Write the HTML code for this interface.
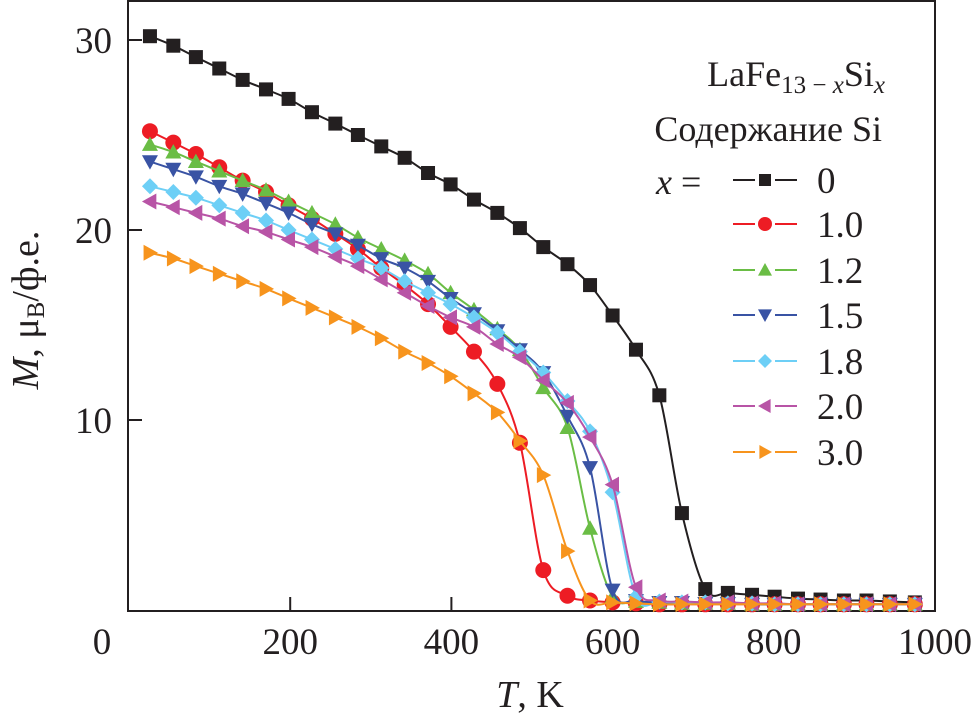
<!DOCTYPE html>
<html><head><meta charset="utf-8"><style>
body{margin:0;background:#fff}
svg text{font-family:"Liberation Serif",serif;fill:#231f20}
</style></head><body>
<svg id="chart" width="975" height="723" viewBox="0 0 975 723" xmlns="http://www.w3.org/2000/svg">
<rect x="128" y="1" width="807" height="610" fill="none" stroke="#231f20" stroke-width="2"/>
<g id="ticks"></g>
<g id="series"></g>
<text x="102" y="654" font-size="37" text-anchor="middle">0</text>
<text x="530" y="707" font-size="38" text-anchor="middle"><tspan font-style="italic">T</tspan>, K</text>
<text transform="translate(38,310) rotate(-90)" font-size="38" text-anchor="middle"><tspan font-style="italic">M</tspan>, μ<tspan font-size="25" dy="6">B</tspan><tspan dy="-6">/ф.е.</tspan></text>
<g>
<text x="885" y="86" font-size="36" text-anchor="end">LaFe<tspan font-size="25" dy="7">13 − <tspan font-style="italic">x</tspan></tspan><tspan dy="-7">Si</tspan><tspan font-size="25" dy="7" font-style="italic">x</tspan></text>
<text x="882" y="141" font-size="36" text-anchor="end">Содержание Si</text>
<text x="656" y="194" font-size="36"><tspan font-style="italic">x</tspan> =</text>
<g id="legend-entries"></g>
</g>
</svg>
<script>
const temps=[26,55,83,112,141,170,198,227,256,284,313,342,371,399,428,457,485,514,544,572,600,629,658,686,715,743,773,801,830,858,887,915,944,975];
const m0=[30.2,29.7,29.1,28.5,27.9,27.4,26.9,26.2,25.6,25.0,24.4,23.8,23.0,22.4,21.6,20.9,20.1,19.1,18.2,17.1,15.5,13.7,11.3,5.1,1.1,0.9,0.8,0.7,0.6,0.55,0.5,0.5,0.45,0.4];
const m10=[25.2,24.6,24.0,23.3,22.6,22.0,21.3,20.6,19.8,19.0,18.0,17.1,16.1,14.9,13.6,11.9,8.8,2.1,0.75,0.5,0.4,0.35,0.3,0.3,0.3,0.3,0.3,0.3,0.3,0.3,0.3,0.3,0.3,0.3];
const m12=[24.5,24.1,23.6,23.1,22.6,22.1,21.5,20.9,20.3,19.6,19.0,18.4,17.7,16.7,15.8,14.8,13.7,11.7,9.6,4.3,0.7,0.45,0.4,0.35,0.35,0.35,0.3,0.3,0.3,0.3,0.3,0.3,0.3,0.3];
const m15=[23.6,23.2,22.8,22.3,21.9,21.4,20.9,20.3,19.8,19.2,18.5,18.0,17.3,16.4,15.6,14.7,13.7,12.5,10.2,7.5,1.05,0.5,0.4,0.4,0.35,0.35,0.3,0.3,0.3,0.3,0.3,0.3,0.3,0.3];
const m18=[22.3,22.0,21.7,21.3,20.9,20.5,20.0,19.5,19.0,18.5,18.0,17.3,16.7,16.1,15.4,14.6,13.6,12.5,11.0,9.4,6.2,0.7,0.45,0.4,0.4,0.35,0.35,0.3,0.3,0.3,0.3,0.3,0.3,0.3];
const m20=[21.5,21.2,20.9,20.6,20.2,19.9,19.5,19.1,18.6,18.1,17.4,16.7,16.0,15.4,14.9,14.0,13.3,12.1,10.9,9.1,6.6,1.2,0.5,0.45,0.4,0.4,0.35,0.35,0.3,0.3,0.3,0.3,0.3,0.3];
const m30=[18.8,18.5,18.1,17.7,17.3,16.9,16.4,15.9,15.4,14.9,14.3,13.6,13.0,12.3,11.4,10.4,8.9,7.1,3.1,0.5,0.4,0.35,0.3,0.3,0.3,0.3,0.3,0.3,0.3,0.3,0.3,0.3,0.3,0.3];
const seriesLabels=["0","1.0","1.2","1.5","1.8","2.0","3.0"];
const xTicks=[200,400,600,800,1000];
const yTicks=[10,20,30];

const NS="http://www.w3.org/2000/svg";
const xS=t=>129+0.806*t;
const yS=m=>610-19*m;
function mk(tag,attrs,parent){const e=document.createElementNS(NS,tag);for(const k in attrs)e.setAttribute(k,attrs[k]);parent.appendChild(e);return e;}
const tickG=document.getElementById('ticks');
xTicks.forEach(v=>{
  const l=mk('line',{x1:xS(v),x2:xS(v),y1:611,y2:597,stroke:'#231f20','stroke-width':2},tickG);
  
  
  const t=mk('text',{x:xS(v),y:654,'font-size':37,'text-anchor':'middle'},tickG);t.textContent=v;
  
  
});
yTicks.forEach(v=>{
  const l=mk('line',{x1:128,x2:142,y1:yS(v),y2:yS(v),stroke:'#231f20','stroke-width':2},tickG);
  
  
  const t=mk('text',{x:112,y:yS(v)+13,'font-size':37,'text-anchor':'end'},tickG);t.textContent=v;
  
  
});
const colors=['#231f20','#ed1c24','#6abd45','#3953a4','#6dcff6','#b854a6','#f7941d'];
const shapes=['square','circle','up','down','diamond','left','right'];
const data=[m0,m10,m12,m15,m18,m20,m30];
function marker(shape,cx,cy,c,p,s){
  s=s||8;let e;
  if(shape==='square')e=mk('rect',{x:cx-s+1,y:cy-s+1,width:2*s-2,height:2*s-2,fill:c},p);
  else if(shape==='circle')e=mk('circle',{cx:cx,cy:cy,r:s,fill:c},p);
  else{let pts;
    if(shape==='up')pts=[[0,-s],[s,s*0.8],[-s,s*0.8]];
    if(shape==='down')pts=[[0,s],[s,-s*0.8],[-s,-s*0.8]];
    if(shape==='left')pts=[[-s,0],[s*0.8,-s],[s*0.8,s]];
    if(shape==='right')pts=[[s,0],[-s*0.8,-s],[-s*0.8,s]];
    if(shape==='diamond')pts=[[0,-s],[s,0],[0,s],[-s,0]];
    e=mk('polygon',{points:pts.map(q=>(cx+q[0])+','+(cy+q[1])).join(' '),fill:c},p);}
  return e;
}
function smooth(pts){
  let d='M'+pts[0][0]+','+pts[0][1];
  for(let i=0;i<pts.length-1;i++){
    const p0=pts[i-1]||pts[i],p1=pts[i],p2=pts[i+1],p3=pts[i+2]||p2;
    d+=' C'+(p1[0]+(p2[0]-p0[0])/6)+','+(p1[1]+(p2[1]-p0[1])/6)+' '+(p2[0]-(p3[0]-p1[0])/6)+','+(p2[1]-(p3[1]-p1[1])/6)+' '+p2[0]+','+p2[1];
  }
  return d;
}
const sg=document.getElementById('series');
const order=[0,1,2,3,4,5,6];
order.forEach(i=>{
  const g=mk('g',{},sg);
  
  
  const pts=temps.map((t,j)=>[xS(t),yS(data[i][j])]);
  const path=mk('path',{d:smooth(pts),fill:'none',stroke:colors[i],'stroke-width':2},g);
  
  
  pts.forEach(p=>{const m=marker(shapes[i],p[0],p[1],colors[i],g);
    
    });
});
const lg=document.getElementById('legend-entries');
const ly=[180,224,270,315,361,406,452];
seriesLabels.forEach((lab,i)=>{
  const g=mk('g',{},lg);
  
  
  mk('line',{x1:733,x2:755,y1:ly[i],y2:ly[i],stroke:colors[i],'stroke-width':2},g);
  mk('line',{x1:775,x2:797,y1:ly[i],y2:ly[i],stroke:colors[i],'stroke-width':2},g);
  marker(shapes[i],765,ly[i],colors[i],g,7);
  const t=mk('text',{x:817,y:ly[i]+13,'font-size':37},g);t.textContent=lab;
});
</script>
</body></html>
